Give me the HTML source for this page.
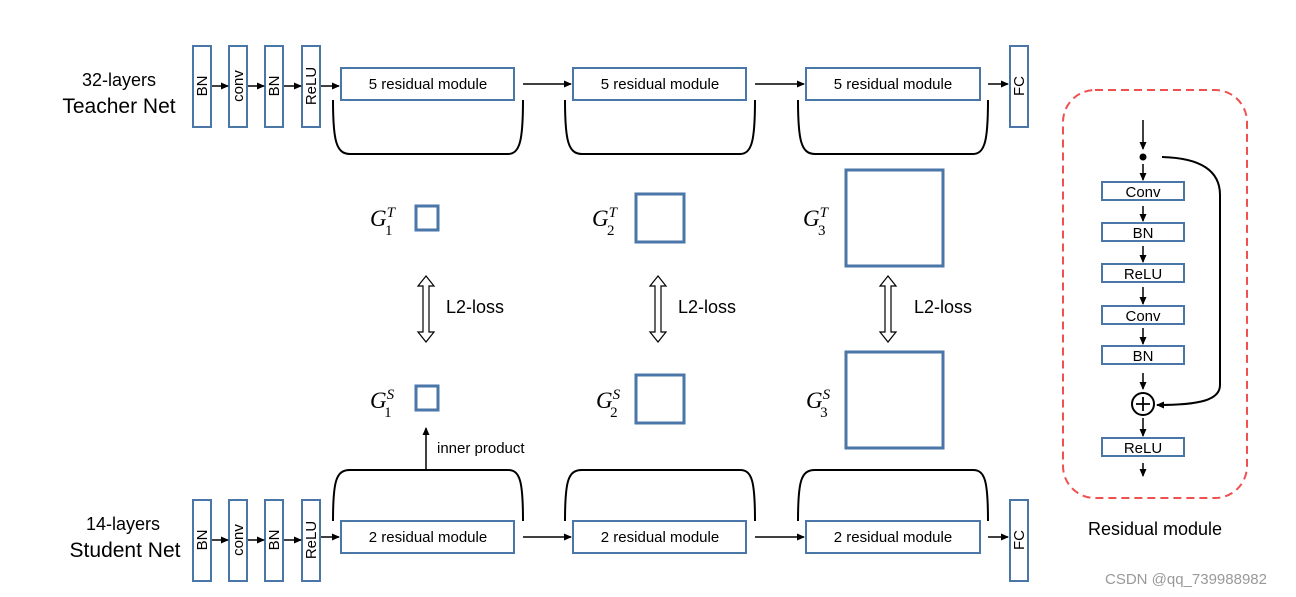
<!DOCTYPE html>
<html><head><meta charset="utf-8"><style>body{margin:0;background:#fff}svg{display:block}.s{font-family:"Liberation Sans",Arial,sans-serif}.g{font-family:"Liberation Serif",serif;font-style:italic}</style></head><body>
<svg width="1296" height="597" viewBox="0 0 1296 597" xmlns="http://www.w3.org/2000/svg">
<defs><marker id="a" markerWidth="8" markerHeight="8" refX="7" refY="4" orient="auto" markerUnits="userSpaceOnUse"><path d="M0,0.5 L8,4 L0,7.5z" fill="#000"/></marker></defs>
<g fill="#fff" stroke="#4a76a8" stroke-width="2">
<rect x="193" y="46" width="18" height="81"/><rect x="229" y="46" width="18" height="81"/><rect x="265" y="46" width="18" height="81"/><rect x="302" y="46" width="18" height="81"/>
<rect x="341" y="68" width="173" height="32"/><rect x="573" y="68" width="173" height="32"/><rect x="806" y="68" width="174" height="32"/>
<rect x="1010" y="46" width="18" height="81"/>
<rect x="193" y="500" width="18" height="81"/><rect x="229" y="500" width="18" height="81"/><rect x="265" y="500" width="18" height="81"/><rect x="302" y="500" width="18" height="81"/>
<rect x="341" y="521" width="173" height="32"/><rect x="573" y="521" width="173" height="32"/><rect x="806" y="521" width="174" height="32"/>
<rect x="1010" y="500" width="18" height="81"/>
</g>
<g fill="#fff" stroke="#4a76a8" stroke-width="3">
<rect x="416" y="206" width="22" height="24"/><rect x="636" y="194" width="48" height="48"/><rect x="846" y="170" width="97" height="96"/>
<rect x="416" y="386" width="22" height="24"/><rect x="636" y="375" width="48" height="48"/><rect x="846" y="352" width="97" height="96"/>
</g>
<g class="s" font-size="15" text-anchor="middle">
<text transform="translate(207,86) rotate(-90)">BN</text><text transform="translate(243,86) rotate(-90)">conv</text><text transform="translate(279,86) rotate(-90)">BN</text><text transform="translate(316,86) rotate(-90)">ReLU</text><text transform="translate(1024,86) rotate(-90)">FC</text>
<text transform="translate(207,540) rotate(-90)">BN</text><text transform="translate(243,540) rotate(-90)">conv</text><text transform="translate(279,540) rotate(-90)">BN</text><text transform="translate(316,540) rotate(-90)">ReLU</text><text transform="translate(1024,540) rotate(-90)">FC</text>
<text x="428" y="89">5 residual module</text><text x="660" y="89">5 residual module</text><text x="893" y="89">5 residual module</text>
<text x="428" y="542">2 residual module</text><text x="660" y="542">2 residual module</text><text x="893" y="542">2 residual module</text>
</g>
<g class="s" font-size="18" text-anchor="middle"><text x="119" y="86">32-layers</text><text x="123" y="530">14-layers</text></g>
<g class="s" font-size="21" text-anchor="middle"><text x="119" y="113">Teacher Net</text><text x="125" y="557">Student Net</text></g>
<g stroke="#000" stroke-width="1.5" fill="none" marker-end="url(#a)">
<line x1="212" y1="86" x2="228" y2="86"/><line x1="248" y1="86" x2="264" y2="86"/><line x1="284" y1="86" x2="301" y2="86"/><line x1="321" y1="86" x2="339" y2="86"/>
<line x1="523" y1="84" x2="571" y2="84"/><line x1="755" y1="84" x2="804" y2="84"/><line x1="988" y1="84" x2="1008" y2="84"/>
<line x1="212" y1="540" x2="228" y2="540"/><line x1="248" y1="540" x2="264" y2="540"/><line x1="284" y1="540" x2="301" y2="540"/><line x1="321" y1="537" x2="339" y2="537"/>
<line x1="523" y1="537" x2="571" y2="537"/><line x1="755" y1="537" x2="804" y2="537"/><line x1="988" y1="537" x2="1008" y2="537"/>
<line x1="426" y1="470" x2="426" y2="428"/>
</g>
<g stroke="#000" stroke-width="2" fill="none">
<path d="M333,100 C333,140 336,154 350,154 L508,154 C520,154 523,140 523,100"/>
<path d="M565,100 C565,140 568,154 582,154 L740,154 C752,154 755,140 755,100"/>
<path d="M798,100 C798,140 801,154 815,154 L973,154 C985,154 988,140 988,100"/>
<path d="M333,521 C333,481 336,470 350,470 L508,470 C520,470 523,481 523,521"/>
<path d="M565,521 C565,481 568,470 582,470 L740,470 C752,470 755,481 755,521"/>
<path d="M798,521 C798,481 801,470 815,470 L973,470 C985,470 988,481 988,521"/>
</g>
<g stroke="#000" stroke-width="1.2" fill="#fff">
<path d="M426,276 l-8,10 h5 v46 h-5 l8,10 l8,-10 h-5 v-46 h5z"/>
<path d="M658,276 l-8,10 h5 v46 h-5 l8,10 l8,-10 h-5 v-46 h5z"/>
<path d="M888,276 l-8,10 h5 v46 h-5 l8,10 l8,-10 h-5 v-46 h5z"/>
</g>
<g class="s" font-size="18"><text x="446" y="313">L2-loss</text><text x="678" y="313">L2-loss</text><text x="914" y="313">L2-loss</text></g>
<text class="s" x="437" y="453" font-size="15">inner product</text>
<g class="g" font-size="23">
<text x="370" y="226">G<tspan font-size="15" dy="-9">T</tspan><tspan font-size="15" style="font-style:normal" dx="-10" dy="18">1</tspan></text>
<text x="592" y="226">G<tspan font-size="15" dy="-9">T</tspan><tspan font-size="15" style="font-style:normal" dx="-10" dy="18">2</tspan></text>
<text x="803" y="226">G<tspan font-size="15" dy="-9">T</tspan><tspan font-size="15" style="font-style:normal" dx="-10" dy="18">3</tspan></text>
<text x="370" y="408">G<tspan font-size="15" dy="-9">S</tspan><tspan font-size="15" style="font-style:normal" dx="-10" dy="18">1</tspan></text>
<text x="596" y="408">G<tspan font-size="15" dy="-9">S</tspan><tspan font-size="15" style="font-style:normal" dx="-10" dy="18">2</tspan></text>
<text x="806" y="408">G<tspan font-size="15" dy="-9">S</tspan><tspan font-size="15" style="font-style:normal" dx="-10" dy="18">3</tspan></text>
</g>
<rect x="1063" y="90" width="184" height="408" rx="32" fill="none" stroke="#f05050" stroke-width="2" stroke-dasharray="8,5"/>
<g fill="#fff" stroke="#4a76a8" stroke-width="2">
<rect x="1102" y="182" width="82" height="18"/><rect x="1102" y="223" width="82" height="18"/><rect x="1102" y="264" width="82" height="18"/><rect x="1102" y="306" width="82" height="18"/><rect x="1102" y="346" width="82" height="18"/><rect x="1102" y="438" width="82" height="18"/>
</g>
<g class="s" font-size="15" text-anchor="middle"><text x="1143" y="197">Conv</text><text x="1143" y="238">BN</text><text x="1143" y="279">ReLU</text><text x="1143" y="321">Conv</text><text x="1143" y="361">BN</text><text x="1143" y="453">ReLU</text></g>
<g stroke="#000" stroke-width="1.5" fill="none" marker-end="url(#a)">
<line x1="1143" y1="120" x2="1143" y2="149"/><line x1="1143" y1="164" x2="1143" y2="180"/><line x1="1143" y1="206" x2="1143" y2="221"/><line x1="1143" y1="246" x2="1143" y2="262"/><line x1="1143" y1="287" x2="1143" y2="304"/><line x1="1143" y1="328" x2="1143" y2="344"/><line x1="1143" y1="373" x2="1143" y2="389"/><line x1="1143" y1="418" x2="1143" y2="436"/><line x1="1143" y1="463" x2="1143" y2="476"/>
<path d="M1162,157 C1200,158 1220,170 1220,195 L1220,385 C1220,400 1200,405 1157,405" stroke-width="2"/>
</g>
<circle cx="1143" cy="157" r="3.5" fill="#000"/>
<circle cx="1143" cy="404" r="11" fill="#fff" stroke="#000" stroke-width="2"/>
<path d="M1136,404 h14 M1143,397 v14" stroke="#000" stroke-width="1.8"/>
<text class="s" x="1155" y="535" font-size="18" text-anchor="middle">Residual module</text>
<text class="s" x="1186" y="584" font-size="15" fill="#999" text-anchor="middle">CSDN @qq_739988982</text>
</svg>
</body></html>
